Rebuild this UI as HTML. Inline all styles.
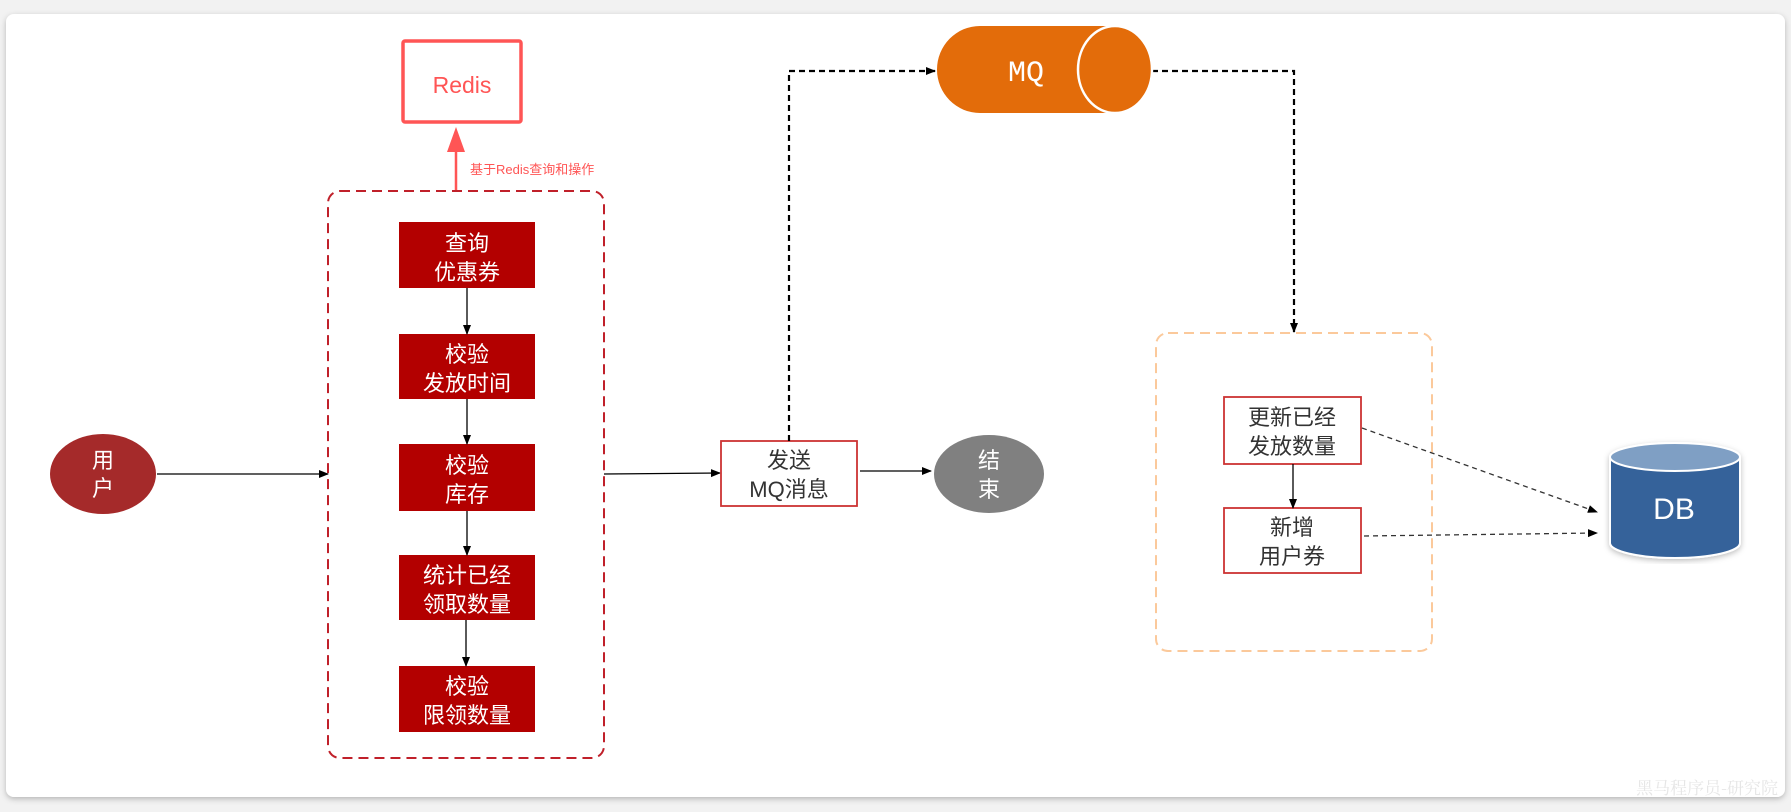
<!DOCTYPE html>
<html><head><meta charset="utf-8"><style>
html,body{margin:0;padding:0;background:#f2f2f2;}
svg{display:block;font-family:"Liberation Sans","Noto Sans CJK SC",sans-serif;}
</style></head><body>
<svg width="1791" height="812" viewBox="0 0 1791 812" xmlns="http://www.w3.org/2000/svg">
<defs>
<filter id="sh" x="-5%" y="-5%" width="110%" height="110%"><feDropShadow dx="0" dy="2" stdDeviation="3" flood-color="#000" flood-opacity="0.25"/></filter>
<marker id="ab" markerWidth="10" markerHeight="10" refX="9" refY="5" orient="auto" markerUnits="userSpaceOnUse"><path d="M0,1 L10,5 L0,9 z" fill="#000"/></marker>
<marker id="ar" markerWidth="20" markerHeight="24" refX="10" refY="2" orient="auto" markerUnits="userSpaceOnUse"><path d="M0,0 L10,0 L10,0 z" fill="#f55"/></marker>
</defs>
<rect x="0" y="0" width="1791" height="812" fill="#f2f2f2"/>
<rect x="6" y="14" width="1779" height="783" rx="8" fill="#fff" filter="url(#sh)"/>

<!-- Redis -->
<rect x="403" y="41" width="118" height="81" fill="#fff" stroke="#f55" stroke-width="3.5" rx="2"/>
<text x="462" y="93" font-size="23" fill="#f55" text-anchor="middle">Redis</text>
<line x1="456" y1="191" x2="456" y2="150" stroke="#f55" stroke-width="2.5"/>
<path d="M447,152 L456,127 L465,152 z" fill="#f55"/>
<text x="470" y="174" font-size="13" fill="#f55">基于Redis查询和操作</text>

<!-- red dashed box -->
<rect x="328" y="191" width="276" height="567" rx="12" fill="none" stroke="#c0202a" stroke-width="2" stroke-dasharray="10,6"/>

<g fill="#b30000">
<rect x="399" y="222" width="136" height="66"/>
<rect x="399" y="334" width="136" height="65"/>
<rect x="399" y="444" width="136" height="67"/>
<rect x="399" y="555" width="136" height="65"/>
<rect x="399" y="666" width="136" height="66"/>
</g>
<g font-size="22" fill="#fff" text-anchor="middle">
<text x="467" y="251">查询</text><text x="467" y="280">优惠券</text>
<text x="467" y="362">校验</text><text x="467" y="391">发放时间</text>
<text x="467" y="473">校验</text><text x="467" y="502">库存</text>
<text x="467" y="583">统计已经</text><text x="467" y="612">领取数量</text>
<text x="467" y="694">校验</text><text x="467" y="723">限领数量</text>
</g>
<g stroke="#000" stroke-width="1.3" marker-end="url(#ab)">
<line x1="467" y1="288" x2="467" y2="334"/>
<line x1="467" y1="399" x2="467" y2="444"/>
<line x1="467" y1="511" x2="467" y2="555"/>
<line x1="466" y1="620" x2="466" y2="666"/>
</g>

<!-- user -->
<ellipse cx="103" cy="474" rx="53" ry="40" fill="#a52a2a"/>
<text x="103" y="468" font-size="22" fill="#fff" text-anchor="middle">用</text>
<text x="103" y="496" font-size="22" fill="#fff" text-anchor="middle">户</text>
<g stroke="#000" stroke-width="1.3" marker-end="url(#ab)">
<line x1="157" y1="474" x2="328" y2="474"/>
<line x1="604" y1="474" x2="720" y2="473"/>
<line x1="860" y1="471" x2="931" y2="471"/>
</g>

<!-- send MQ -->
<rect x="721" y="441" width="136" height="65" fill="#fff" stroke="#c33" stroke-width="1.8"/>
<text x="789" y="468" font-size="22" fill="#333" text-anchor="middle">发送</text>
<text x="789" y="497" font-size="22" fill="#333" text-anchor="middle">MQ消息</text>

<!-- end -->
<ellipse cx="989" cy="474" rx="55" ry="39" fill="#808080"/>
<text x="989" y="468" font-size="22" fill="#fff" text-anchor="middle">结</text>
<text x="989" y="497" font-size="22" fill="#fff" text-anchor="middle">束</text>

<!-- dashed to MQ -->
<g fill="none" stroke="#000" stroke-width="2.2" stroke-dasharray="6,4" marker-end="url(#ab)">
<polyline points="789,441 789,71 935,71"/>
<polyline points="1152,71 1294,71 1294,332"/>
</g>

<!-- MQ cylinder -->
<path d="M980,26 L1115,26 A37,43.5 0 0 1 1115,113 L980,113 A43,43.5 0 0 1 980,26 z" fill="#e36c0a"/>
<ellipse cx="1115" cy="69.5" rx="37" ry="43.5" fill="#e36c0a" stroke="#fff" stroke-width="2.5"/>
<text x="1026" y="81" font-size="30" fill="#fff" text-anchor="middle" font-family="Liberation Mono, monospace">MQ</text>

<!-- orange dashed box -->
<rect x="1156" y="333" width="276" height="318" rx="12" fill="none" stroke="#fbc99b" stroke-width="2" stroke-dasharray="10,6"/>
<rect x="1224" y="397" width="137" height="67" fill="#fff" stroke="#c33" stroke-width="1.8"/>
<text x="1292" y="425" font-size="22" fill="#333" text-anchor="middle">更新已经</text>
<text x="1292" y="454" font-size="22" fill="#333" text-anchor="middle">发放数量</text>
<rect x="1224" y="508" width="137" height="65" fill="#fff" stroke="#c33" stroke-width="1.8"/>
<text x="1292" y="535" font-size="22" fill="#333" text-anchor="middle">新增</text>
<text x="1292" y="564" font-size="22" fill="#333" text-anchor="middle">用户券</text>
<line x1="1293" y1="464" x2="1293" y2="508" stroke="#000" stroke-width="1.3" marker-end="url(#ab)"/>
<g stroke="#333" stroke-width="1.3" stroke-dasharray="5,4" marker-end="url(#ab)">
<line x1="1362" y1="428" x2="1597" y2="512"/>
<line x1="1364" y1="536" x2="1597" y2="533"/>
</g>

<!-- DB -->
<g filter="url(#sh)">
<path d="M1610,457 L1610,543 A65,15 0 0 0 1740,543 L1740,457 z" fill="#35629a" stroke="#fff" stroke-width="2"/>
<ellipse cx="1675" cy="457" rx="65" ry="14" fill="#7f9fc4" stroke="#fff" stroke-width="2"/>
</g>
<text x="1674" y="519" font-size="30" fill="#fff" text-anchor="middle">DB</text>

<text x="1778" y="794" font-size="17" fill="#e6e6e6" text-anchor="end" font-family="Noto Serif CJK SC, serif">黑马程序员-研究院</text>
</svg>
</body></html>
